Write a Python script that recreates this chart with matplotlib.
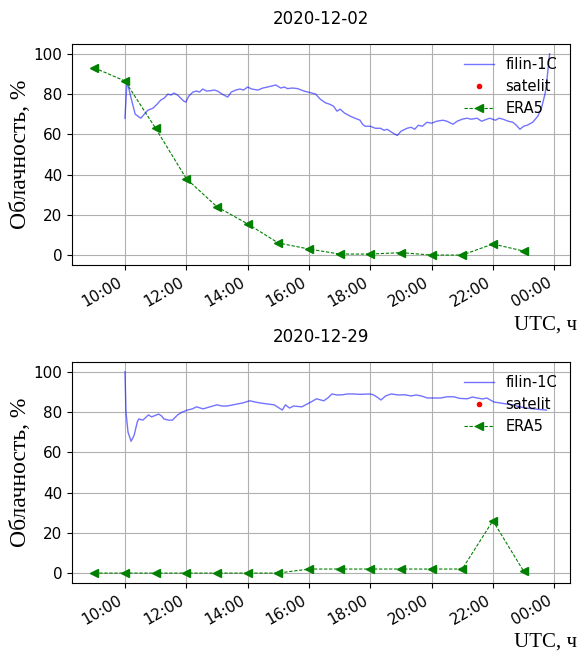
#!/usr/bin/env python
# -*- coding: utf-8 -*-
"""
Cloudiness from filin-1C, satellite and ERA5 for two days
"""
import datetime as dt

import numpy as np
import matplotlib
matplotlib.use("Agg")
import matplotlib.pyplot as plt
import matplotlib.dates as mdates

# --- 2020-12-02 -------------------------------------------------------------
day1 = "2020-12-02"
filin1_t = ["10:00", "10:04", "10:10", "10:20", "10:31", "10:38", "10:45",
            "10:55", "11:03", "11:10", "11:17", "11:24", "11:30", "11:36",
            "11:43", "11:49", "11:55", "11:59", "12:05", "12:13", "12:20",
            "12:26", "12:32", "12:40", "12:48", "12:55", "13:01", "13:10",
            "13:21", "13:28", "13:37", "13:45", "13:52", "14:00", "14:08",
            "14:20", "14:30", "14:39", "14:47", "14:55", "15:05", "15:12",
            "15:18", "15:28", "15:38", "15:50", "16:03", "16:13", "16:22",
            "16:32", "16:40", "16:48", "16:55", "17:01", "17:10", "17:21",
            "17:30", "17:40", "17:45", "17:50", "18:00", "18:10", "18:20",
            "18:27", "18:33", "18:42", "18:53", "19:00", "19:12", "19:20",
            "19:27", "19:34", "19:42", "19:51", "20:00", "20:10", "20:22",
            "20:30", "20:42", "20:50", "21:00", "21:09", "21:18", "21:29",
            "21:38", "21:48", "21:54", "22:05", "22:12", "22:20", "22:30",
            "22:39", "22:46", "22:53", "23:00", "23:07", "23:18", "23:28",
            "23:35", "23:42", "23:45", "23:51"]
filin1_v = [68, 86.5, 80, 70, 68, 70, 72,
            73, 75, 77, 78, 80, 79.5, 80.5,
            79.5, 78, 76.5, 76, 79, 81, 81.5,
            81, 82.5, 81.5, 81.7, 82, 81.5, 80,
            78.5, 81, 82, 82.5, 82, 83.5, 82.5,
            82, 83, 83.5, 84, 84.5, 83, 83.5,
            82.7, 83, 82.7, 81.5, 80.7, 80, 77.5,
            75.7, 75, 74, 71.5, 72.5, 70.5, 69,
            68, 67, 65, 64, 64, 63, 63,
            62, 62.5, 61, 59.4, 61.5, 63, 63.5,
            62.5, 64.5, 64, 66, 65.5, 66.5, 67,
            66.5, 65, 66.5, 67.5, 68, 67.5, 68,
            66.5, 67.5, 68, 67, 68, 67.5, 66.5,
            66, 64.5, 62.5, 64, 64.5, 66, 69,
            73, 80, 85, 100]
# satellite series has no points in view on either day
sat1_t = []
sat1_v = []
era1_t = ["09:00", "10:00", "11:00", "12:00", "13:00", "14:00", "15:00",
          "16:00", "17:00", "18:00", "19:00", "20:00", "21:00", "22:00",
          "23:00"]
era1_v = [93, 86.5, 63, 38, 24, 15.5, 6, 3, 0.5, 0.5, 1.2, 0, 0, 5.5, 2]

# --- 2020-12-29 -------------------------------------------------------------
day2 = "2020-12-29"
filin2_t = ["10:00", "10:02", "10:06", "10:12", "10:18", "10:24", "10:27",
            "10:35", "10:46", "10:52", "11:06", "11:12", "11:16", "11:25",
            "11:33", "11:43", "11:52", "12:02", "12:12", "12:20", "12:33",
            "12:45", "13:00", "13:10", "13:19", "13:30", "13:39", "13:50",
            "14:04", "14:15", "14:23", "14:39", "14:52", "15:08", "15:14",
            "15:22", "15:30", "15:46", "16:04", "16:15", "16:29", "16:37",
            "16:45", "16:55", "17:06", "17:15", "17:26", "17:40", "17:59",
            "18:06", "18:13", "18:21", "18:30", "18:41", "18:55", "19:08",
            "19:20", "19:30", "19:40", "19:52", "20:05", "20:18", "20:30",
            "20:44", "20:55", "21:10", "21:20", "21:29", "21:40", "21:48",
            "22:02", "22:15", "22:27", "22:40", "22:52", "23:05", "23:19",
            "23:30", "23:45"]
filin2_v = [100, 80, 70, 65.5, 68.5, 75, 76.6,
            76, 78.6, 77.6, 79, 78, 76.6, 76,
            76, 78.6, 80, 81, 81.6, 82.6, 81.6,
            82.5, 83.6, 83, 83, 83.5, 84, 84.5,
            85.6, 85, 84.6, 84, 83.6, 81, 83.6,
            82, 83, 82.6, 85, 86.6, 85.6, 87,
            89, 88.5, 88.6, 89, 89, 88.8, 89,
            88.6, 87.5, 86, 88, 89, 88.5, 88.6,
            88, 88.5, 88, 87, 87, 87, 87.6,
            87.6, 86.8, 86.6, 87.5, 87, 86.5, 87,
            85, 84.5, 84, 83.5, 82.6, 82, 81.6,
            81.3, 81]
sat2_t = []
sat2_v = []
era2_t = era1_t
era2_v = [0, 0, 0, 0, 0, 0, 0, 2, 2, 2, 2, 2, 2, 26, 1]


def to_dt(day, times):
    base = dt.datetime.strptime(day, "%Y-%m-%d")
    out = []
    for t in times:
        h, m = t.split(":")
        out.append(base + dt.timedelta(hours=int(h), minutes=int(m)))
    return out


def plot_day(ax, day, ft, fv, st, sv, et, ev):
    ax.plot(to_dt(day, ft), fv, color="blue", alpha=0.55, lw=1,
            label="filin-1C")
    ax.plot(to_dt(day, st), sv, "o", color="red", ms=3, label="satelit")
    ax.plot(to_dt(day, et), ev, color="green", ls=(0, (3, 1.5)), lw=0.8,
            marker="<", ms=6, label="ERA5")
    base = dt.datetime.strptime(day, "%Y-%m-%d")
    ax.set_xlim(base + dt.timedelta(hours=8.27),
                base + dt.timedelta(hours=24.52))
    ax.set_ylim(-5, 105)
    ax.set_yticks(np.arange(0, 101, 20))
    ax.xaxis.set_major_locator(mdates.HourLocator(byhour=range(0, 24, 2)))
    ax.xaxis.set_major_formatter(mdates.DateFormatter("%H:%M"))
    ax.tick_params(labelsize=11)
    plt.setp(ax.get_xticklabels(), rotation=30, ha="right")
    ax.grid(True)
    ax.set_title(day, fontsize=12, pad=14)
    ax.set_ylabel("Облачность, %", family="Liberation Serif", fontsize=17,
                  labelpad=2)
    ax.legend(loc="upper right", frameon=False, fontsize=10.5)


fig = plt.figure(figsize=(5.8, 6.53), dpi=100)
ax1 = fig.add_axes([0.124, 0.594, 0.859, 0.339])
ax2 = fig.add_axes([0.124, 0.107, 0.859, 0.339])

plot_day(ax1, day1, filin1_t, filin1_v, sat1_t, sat1_v, era1_t, era1_v)
plot_day(ax2, day2, filin2_t, filin2_v, sat2_t, sat2_v, era2_t, era2_v)

fig.text(0.995, 0.502, "UTC, ч", family="Liberation Serif", fontsize=15,
         ha="right", va="center")
fig.text(0.995, 0.017, "UTC, ч", family="Liberation Serif", fontsize=15,
         ha="right", va="center")

fig.savefig("out.png", dpi=100)
